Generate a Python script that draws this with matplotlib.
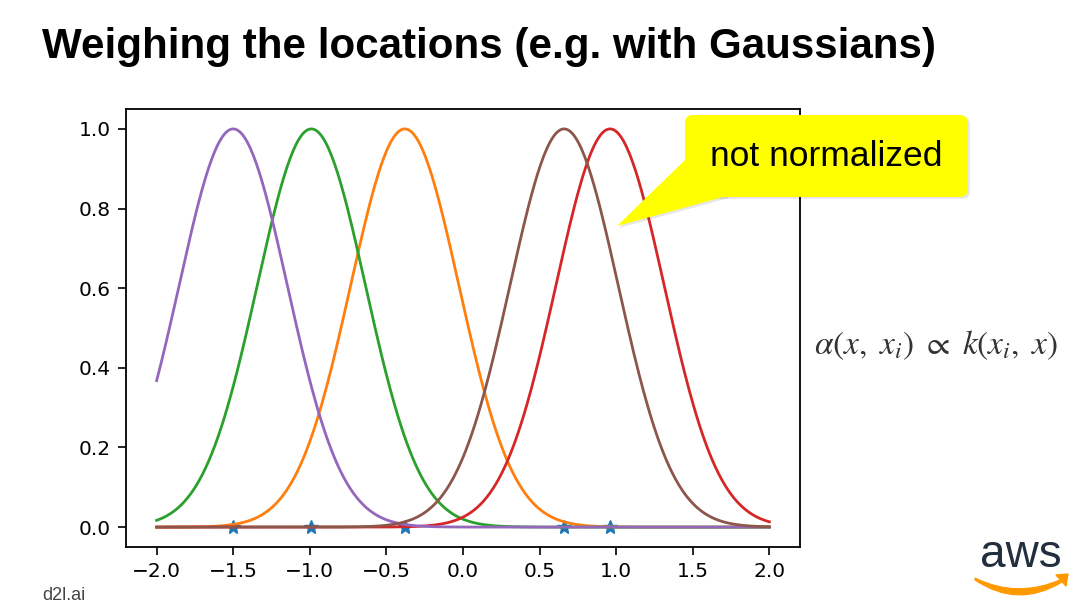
import numpy as np
import matplotlib.pyplot as plt
from matplotlib.patches import FancyBboxPatch, Polygon, PathPatch
from matplotlib.path import Path

# keys (locations x_i) in the order they were plotted -> colors C1..C5
keys = [-0.38, -0.99, 0.96, -1.50, 0.66]
stars = [-1.50, -0.99, -0.38, 0.66, 0.96]
xticks = [-2.0, -1.5, -1.0, -0.5, 0.0, 0.5, 1.0, 1.5, 2.0]
yticks = [0.0, 0.2, 0.4, 0.6, 0.8, 1.0]
width = 4.0  # gaussian kernel exp(-width * (x - x_i)^2)

fig = plt.figure(figsize=(10.8, 6.07), dpi=100)
ax = fig.add_axes([126 / 1080, 60 / 607, 674 / 1080, 438 / 607])

x = np.linspace(-2, 2, 400)
ax.plot(stars, np.zeros(len(stars)), '*', color='C0', markersize=10)
for i, k in enumerate(keys):
    ax.plot(x, np.exp(-width * (x - k) ** 2), color='C%d' % (i + 1), lw=2)

ax.set_xticks(xticks)
ax.set_yticks(yticks)
ax.tick_params(labelsize=14.5, length=6, width=1.2, pad=5)
for s in ax.spines.values():
    s.set_linewidth(1.3)

# overlay in pixel coordinates for slide decorations
ov = fig.add_axes([0, 0, 1, 1], zorder=5)
ov.set_xlim(0, 1080)
ov.set_ylim(607, 0)
ov.axis('off')
ov.patch.set_alpha(0)

ov.text(42, 58, 'Weighing the locations (e.g. with Gaussians)', fontsize=30.3,
        fontweight='bold', family='Liberation Sans', va='baseline')

# callout with a soft shadow
for dx, col, z in [(2, '#00000018', 1), (0, '#ffff00', 2)]:
    ov.add_patch(FancyBboxPatch((685 + dx, 115 + dx), 283, 82,
                                boxstyle='round,pad=0,rounding_size=8',
                                fc=col, ec='none', zorder=z))
    ov.add_patch(Polygon([(685 + dx, 160 + dx), (617 + dx, 226 + dx), (727 + dx, 196 + dx)],
                         closed=True, fc=col, ec='none', zorder=z))
ov.text(826, 157, 'not normalized', fontsize=25.5, family='Liberation Sans',
        ha='center', va='center', zorder=3)

plt.rcParams['mathtext.fontset'] = 'stix'
ov.text(936, 345, r'$\alpha(x,\ x_i)\ \propto\ k(x_i,\ x)$', fontsize=24,
        ha='center', va='center', color='#333333')

ov.text(42, 600, 'd2l.ai', fontsize=13, family='Liberation Sans',
        color='#444444', va='baseline')

# aws logo
ov.text(1021, 567, 'aws', fontsize=33, family='Liberation Sans',
        color='#232f3e', ha='center', va='baseline')
smile = Path([(975, 578), (1018, 599), (1062, 579), (1062, 582), (1018, 609), (975, 580), (975, 578)],
             [Path.MOVETO, Path.CURVE3, Path.CURVE3, Path.LINETO, Path.CURVE3, Path.CURVE3, Path.CLOSEPOLY])
ov.add_patch(PathPatch(smile, fc='#ff9900', ec='#ff9900', lw=0.8))
ov.add_patch(Polygon([(1056, 575), (1068, 574), (1066, 586)], closed=True,
                     fc='#ff9900', ec='#ff9900', lw=1))

fig.savefig('out.png', dpi=100, facecolor='white')
